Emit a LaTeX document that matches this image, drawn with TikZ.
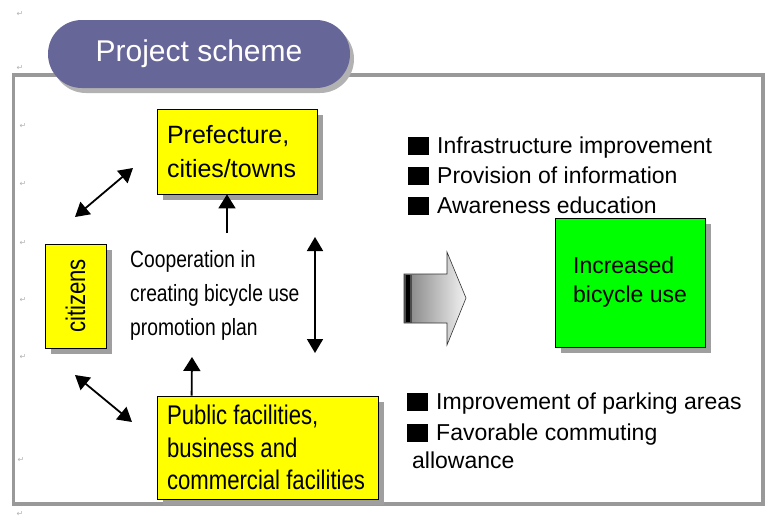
\documentclass[tikz,border=0pt]{standalone}
\usepackage{fontspec}
\setmainfont{Liberation Sans}
\newfontfamily\narrowsf[FakeStretch=0.82]{Liberation Sans}
\newfontfamily\marksf{DejaVu Sans}
\usepackage{tikz}
\usetikzlibrary{arrows.meta,shadows,calc}
\definecolor{schemeviolet}{RGB}{102,102,153}
\definecolor{boxyellow}{RGB}{255,255,0}
\definecolor{boxgreen}{RGB}{0,255,0}
\newcommand{\bsq}{\rule[-2pt]{21pt}{18pt}\hspace{8pt}}

\begin{document}
\begin{tikzpicture}[x=1pt,y=-1pt,
  box/.style={draw=black, line width=0.8pt,
    drop shadow={shadow xshift=6pt, shadow yshift=-6pt, fill=gray!75, opacity=1}},
  ybox/.style={box, fill=boxyellow},
  gbox/.style={box, fill=boxgreen},
  item/.style={anchor=base west, inner sep=0pt, font=\fontsize{23}{28}\selectfont},
  link/.style={line width=1.8pt, {Triangle[length=14pt,width=16pt]}-{Triangle[length=14pt,width=16pt]}},
  uplink/.style={line width=1.8pt, -{Triangle[length=14pt,width=17pt]}},
  retmark/.style={text=gray!60, inner sep=0pt, font=\marksf\fontsize{8}{8}\selectfont}]
\useasboundingbox (0,0) rectangle (766,520);

\foreach \i/\xx/\yy in {1/20/14,2/20/68,3/23/126,4/23/184,5/23/243,6/23/300,7/23/357,8/21/460,9/20/514}
  \node[retmark] (ret-\i) at (\xx,\yy) {↵};

\draw[gray!80, line width=3.5pt] (13.5,75) rectangle (763,504);

\node[fill=schemeviolet, rounded corners=33.9pt, minimum width=302pt, minimum height=68pt,
  text=white, font=\fontsize{30}{36}\selectfont,
  drop shadow={shadow xshift=4pt, shadow yshift=-5pt, fill=gray!60, opacity=1}] (title) at (199,54) {Project scheme};

\node[ybox, minimum width=160pt, minimum height=85pt, text width=140pt, inner xsep=10pt,
  align=flush left, font=\fontsize{25}{34}\selectfont] (pref) at (237,151.5) {Prefecture,\\cities/towns};
\node[ybox, minimum width=61pt, minimum height=104pt] (cit) at (75.5,296) {};
\node[rotate=90, inner sep=0pt, font=\narrowsf\fontsize{27}{30}\selectfont] (cittext) at (cit.center) {citizens};
\node[ybox, minimum width=221pt, minimum height=103pt, text width=201pt, inner xsep=10pt,
  align=flush left, font=\narrowsf\fontsize{27}{32.5}\selectfont] (pub) at (267.5,447.5) {Public facilities,\\business and\\commercial facilities};
\node[anchor=west, inner sep=0pt, align=left, font=\narrowsf\fontsize{23.5}{34}\selectfont] (coop) at (130,295)
  {Cooperation in\\creating bicycle use\\promotion plan};
\node[gbox, minimum width=150pt, minimum height=129pt, align=left, font=\fontsize{23}{29}\selectfont] (incr) at (630,282.5)
  {Increased\\bicycle use};

\coordinate (cz-top) at (75,217);
\coordinate (pf-end) at (133,168);
\coordinate (cz-bot) at (75,375);
\coordinate (pb-end) at (132,422);
\coordinate (co-top) at (227,233);
\coordinate (co-bot) at (192,357);
\coordinate (vt) at (315,237);
\coordinate (vb) at (315,353);

\draw[link] (cz-top) -- (pf-end);
\draw[link] (cz-bot) -- (pb-end);
\draw[link] (vt) -- (vb);
\draw[uplink] (co-top) -- (pref.south -| co-top);
\draw[uplink] ($(pub.north west)+(35,0)$) -- (co-bot);

\shade[left color=gray, right color=gray!10, draw=gray!40!black, line width=0.6pt]
  (404,274) -- (447,274) -- (447,252) -- (466,298) -- (447,345) -- (447,323) -- (404,323) -- cycle;
\fill[gray!60!black] (404,274.5) rectangle (412,322.5);
\fill[black] (405.5,275) rectangle (410,322);

\node[item] (infra) at (408,153) {\bsq Infrastructure improvement};
\node[item] (prov) at (408,183) {\bsq Provision of information};
\node[item] (aware) at (408,213) {\bsq Awareness education};
\node[item] (park) at (407,409) {\bsq Improvement of parking areas};
\node[item] (fav) at (407,440) {\bsq Favorable commuting};
\node[item] (allow) at (412,468) {allowance};
\end{tikzpicture}
\end{document}
